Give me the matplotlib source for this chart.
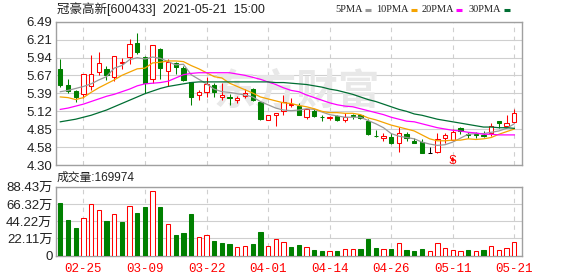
import matplotlib
matplotlib.use('Agg')
import matplotlib.pyplot as plt
from matplotlib.lines import Line2D
import numpy as np

plt.rcParams['font.family'] = ['Liberation Sans', 'Noto Sans CJK SC']

# trading days shown on the chart
dates = ['02-22', '02-23', '02-24', '02-25', '02-26',
         '03-01', '03-02', '03-03', '03-04', '03-05',
         '03-08', '03-09', '03-10', '03-11', '03-12',
         '03-16', '03-17', '03-18', '03-19', '03-22',
         '03-23', '03-24', '03-25', '03-26', '03-29',
         '03-30', '03-31', '04-01', '04-02', '04-06',
         '04-07', '04-08', '04-09', '04-12', '04-13',
         '04-14', '04-15', '04-16', '04-19', '04-20',
         '04-21', '04-22', '04-23', '04-26', '04-27',
         '04-28', '04-29', '04-30', '05-06', '05-07',
         '05-10', '05-11', '05-12', '05-13', '05-14',
         '05-17', '05-18', '05-19', '05-20', '05-21']
date_ticks = ['02-25', '03-09', '03-22', '04-01', '04-14', '04-26', '05-11', '05-21']

opens = [5.77, 5.52, 5.43, 5.38, 5.50, 5.72, 5.77, 5.65, 5.86, 5.95,
         6.16, 5.95, 5.62, 6.07, 5.73, 5.86, 5.79, 5.57, 5.37, 5.42,
         5.52, 5.34, 5.34, 5.29, 5.35, 5.46, 5.27, 4.99, 5.07, 5.13,
         5.22, 5.20, 5.04, 5.13, 5.04, 5.02, 5.05, 4.99, 5.06, 5.07,
         4.98, 4.75, 4.72, 4.73, 4.64, 4.77, 4.67, 4.65, 4.49, 4.50,
         4.72, 4.68, 4.86, 4.77, 4.77, 4.76, 4.79, 4.97, 4.89, 4.95]
highs = [5.92, 5.61, 5.44, 5.69, 5.98, 6.03, 5.81, 5.97, 5.93, 6.22,
         6.32, 5.96, 6.14, 6.09, 5.92, 5.88, 5.81, 5.57, 5.44, 5.65,
         5.55, 5.55, 5.38, 5.36, 5.46, 5.47, 5.27, 5.07, 5.10, 5.37,
         5.33, 5.24, 5.16, 5.15, 5.06, 5.05, 5.07, 5.09, 5.08, 5.08,
         5.00, 4.84, 4.79, 4.79, 4.88, 4.81, 4.72, 4.70, 4.57, 4.79,
         4.79, 4.85, 4.88, 4.80, 4.80, 4.82, 4.94, 4.97, 5.06, 5.16]
lows = [5.49, 5.40, 5.26, 5.32, 5.45, 5.67, 5.60, 5.58, 5.77, 5.85,
        6.00, 5.40, 5.55, 5.62, 5.51, 5.69, 5.59, 5.22, 5.29, 5.34,
        5.34, 5.30, 5.22, 5.25, 5.33, 5.28, 4.99, 4.99, 4.89, 5.07,
        5.18, 5.07, 5.00, 5.03, 4.98, 4.99, 4.98, 4.96, 5.00, 5.01,
        4.76, 4.73, 4.67, 4.62, 4.50, 4.67, 4.63, 4.49, 4.49, 4.49,
        4.63, 4.67, 4.77, 4.71, 4.72, 4.73, 4.74, 4.86, 4.88, 4.94]
closes = [5.53, 5.43, 5.34, 5.69, 5.69, 5.86, 5.68, 5.97, 5.88, 6.15,
          6.02, 5.56, 6.13, 5.79, 5.88, 5.80, 5.60, 5.34, 5.41, 5.54,
          5.42, 5.37, 5.32, 5.32, 5.40, 5.29, 5.01, 5.06, 5.09, 5.26,
          5.23, 5.07, 5.15, 5.05, 5.03, 5.03, 4.99, 5.04, 5.05, 5.02,
          4.78, 4.74, 4.74, 4.64, 4.79, 4.71, 4.64, 4.49, 4.49, 4.69,
          4.76, 4.80, 4.82, 4.76, 4.76, 4.75, 4.90, 4.94, 4.94, 5.10]
# volume in 万 shares
volumes = [67.5, 45.7, 35.5, 47.8, 65.8, 58.1, 44.4, 53.0, 43.1, 63.2,
           54.7, 62.4, 82.4, 62.4, 40.2, 26.5, 29.0, 53.4, 23.5, 26.1,
           18.8, 16.2, 15.0, 10.7, 12.0, 15.0, 30.3, 12.0, 20.9, 17.1,
           11.1, 13.7, 10.7, 7.3, 6.0, 5.6, 6.0, 8.1, 8.1, 8.5,
           21.4, 9.8, 8.5, 8.5, 15.8, 6.8, 6.0, 8.5, 5.6, 15.8,
           9.8, 6.8, 5.6, 7.3, 5.6, 7.3, 12.0, 7.3, 9.8, 17.0]

ma5 = [5.42, 5.44, 5.47, 5.50, 5.54, 5.60, 5.65, 5.78, 5.82, 5.91,
       5.94, 5.92, 5.95, 5.93, 5.88, 5.83, 5.84, 5.68, 5.61, 5.54,
       5.46, 5.42, 5.41, 5.39, 5.37, 5.34, 5.27, 5.22, 5.17, 5.14,
       5.13, 5.14, 5.16, 5.15, 5.11, 5.07, 5.05, 5.03, 5.03, 5.03,
       4.98, 4.93, 4.87, 4.78, 4.74, 4.72, 4.70, 4.65, 4.62, 4.60,
       4.61, 4.65, 4.71, 4.77, 4.78, 4.78, 4.80, 4.82, 4.86, 4.93]
ma10 = [5.34, 5.33, 5.30, 5.33, 5.41, 5.48, 5.54, 5.60, 5.67, 5.72,
        5.77, 5.78, 5.86, 5.87, 5.89, 5.89, 5.88, 5.82, 5.77, 5.71,
        5.65, 5.63, 5.55, 5.50, 5.45, 5.40, 5.34, 5.31, 5.28, 5.25,
        5.24, 5.21, 5.19, 5.16, 5.12, 5.10, 5.10, 5.09, 5.09, 5.07,
        5.02, 4.99, 4.95, 4.91, 4.88, 4.85, 4.82, 4.76, 4.70, 4.67,
        4.67, 4.68, 4.68, 4.70, 4.69, 4.70, 4.72, 4.77, 4.81, 4.85]
ma20 = [5.15, 5.17, 5.20, 5.23, 5.27, 5.31, 5.35, 5.38, 5.42, 5.46,
        5.51, 5.54, 5.55, 5.56, 5.58, 5.63, 5.68, 5.70, 5.71, 5.71,
        5.71, 5.71, 5.71, 5.69, 5.67, 5.64, 5.61, 5.57, 5.53, 5.48,
        5.44, 5.42, 5.37, 5.33, 5.29, 5.25, 5.22, 5.20, 5.19, 5.16,
        5.13, 5.10, 5.07, 5.03, 5.00, 4.97, 4.96, 4.93, 4.90, 4.87,
        4.85, 4.83, 4.82, 4.80, 4.79, 4.77, 4.77, 4.76, 4.76, 4.76]
ma30 = [4.96, 4.98, 5.00, 5.03, 5.06, 5.10, 5.14, 5.19, 5.24, 5.29,
        5.34, 5.39, 5.43, 5.47, 5.50, 5.52, 5.54, 5.56, 5.57, 5.57,
        5.57, 5.57, 5.57, 5.57, 5.57, 5.57, 5.57, 5.57, 5.56, 5.56,
        5.55, 5.54, 5.53, 5.51, 5.49, 5.46, 5.44, 5.41, 5.38, 5.34,
        5.30, 5.27, 5.23, 5.19, 5.15, 5.12, 5.08, 5.06, 5.03, 5.00,
        4.98, 4.96, 4.94, 4.92, 4.90, 4.88, 4.88, 4.87, 4.87, 4.86]

ma_names = ['5PMA', '10PMA', '20PMA', '30PMA']
price_ticks = ['4.30', '4.58', '4.85', '5.12', '5.39', '5.67', '5.94', '6.21', '6.49']
vol_ticks = ['0', '22.11万', '44.22万', '66.32万', '88.43万']
vol_top = 88.43
signal_day = '05-11'

RED = '#ff0000'
GREEN = '#008000'
GRID = '#cfcfcf'
FRAME = '#a0a0a0'
ma_colors = ['#999999', '#f5a300', '#ff00ff', '#006e33']

W, H = 578, 276


def box(l, t, r, b):
    return [l / W, 1 - b / H, (r - l) / W, (b - t) / H]


fig = plt.figure(figsize=(W / 100, H / 100), dpi=100)
ax = fig.add_axes(box(56, 21.7, 522, 165))
axv = fig.add_axes(box(56, 186.7, 522, 255.7))

x = np.arange(len(dates))
o = np.array(opens)
c = np.array(closes)
cc = [RED if c[i] > o[i] else (GREEN if c[i] < o[i] else 'black') for i in x]
fill = ['white' if col == RED else col for col in cc]

# candles
ax.vlines(x, lows, highs, colors=cc, lw=0.75, zorder=3)
ax.bar(x, np.abs(c - o), bottom=np.minimum(o, c), width=0.56, color=fill,
       edgecolor=cc, lw=0.75, zorder=4)

for vals, col in zip([ma5, ma10, ma20, ma30], ma_colors):
    ax.plot(x, vals, color=col, lw=0.9, zorder=5)

# volume colour follows close vs previous close
vc = [GREEN] + [RED if c[i] >= c[i - 1] else GREEN for i in x[1:]]
vfill = ['white' if col == RED else col for col in vc]
axv.bar(x, volumes, width=0.56, color=vfill, edgecolor=vc, lw=0.75, zorder=4)

tick_idx = [dates.index(d) for d in date_ticks]
for a in (ax, axv):
    a.set_xlim(-0.56, 60.0)
    a.set_xticks(tick_idx)
    a.grid(axis='x', color=GRID, lw=0.8, ls=(0, (4, 4)))
    a.grid(axis='y', color=GRID, lw=0.8)
    a.set_axisbelow(True)
    for s in a.spines.values():
        s.set_color(FRAME)
        s.set_linewidth(1.0)
    a.tick_params(length=0, labelsize=9.5, labelcolor='#222222', pad=2.5)

ax.set_ylim(float(price_ticks[0]), float(price_ticks[-1]))
ax.set_yticks(np.linspace(float(price_ticks[0]), float(price_ticks[-1]), len(price_ticks)))
ax.set_yticklabels(price_ticks)
ax.set_xticklabels([])

axv.set_ylim(0, vol_top)
axv.set_yticks(np.linspace(0, vol_top, len(vol_ticks)))
axv.set_yticklabels(vol_ticks)
axv.set_xticklabels(date_ticks, color=RED, family='Liberation Mono', fontsize=9)
axv.tick_params(axis='x', pad=5)

# watermark
ax.text(0.517, 0.513, '东方财富', transform=ax.transAxes, fontsize=30, color='#e8e8e8',
        ha='center', va='center', family=['Noto Sans CJK SC'], weight='bold', zorder=1)

# buy/sell marker
si = dates.index(signal_day)
ax.annotate('', xy=(si, 4.47), xytext=(si, 4.30), annotation_clip=False,
            arrowprops=dict(arrowstyle='-|>', color=RED, lw=0.7, mutation_scale=5), zorder=6)
ax.text(si, 4.355, 'S', color=RED, ha='center', va='center', fontsize=8.5, zorder=6)

# header texts
fig.text(57 / W, 1 - 9.5 / H, '冠豪高新[600433]  2021-05-21  15:00', fontsize=9,
         color='#222222', va='center', ha='left')
fig.text(57 / W, 1 - 177.5 / H, '成交量:169974', fontsize=8.5, color='#222222',
         va='center', ha='left')

# MA legend: label text ends just before its colour dash
text_end = [363, 409, 454, 501]
dash_x = [365, 411, 456, 504]
for name, col, tx, dx in zip(ma_names, ma_colors, text_end, dash_x):
    fig.text(tx / W, 1 - 9.5 / H, name, fontsize=7.5, family='Liberation Serif',
             color='#222222', va='center', ha='right')
    fig.add_artist(Line2D([dx / W, (dx + 6) / W], [1 - 10 / H, 1 - 10 / H],
                          color=col, lw=2.2, solid_capstyle='butt'))

fig.savefig('out.png', dpi=100)
